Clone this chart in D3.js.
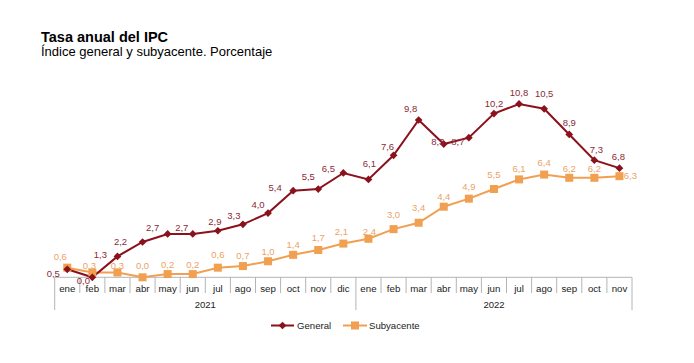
<!DOCTYPE html>
<html>
<head>
<meta charset="utf-8">
<script src="https://cdn.jsdelivr.net/npm/d3@7"></script>
<style>
  body { margin: 0; background: #fff; }
  svg { font-family: "Liberation Sans", Arial, sans-serif; }
</style>
</head>
<body>
<div id="canvas"></div>
<script>
// Datos de la grafica
const months = ["ene", "feb", "mar", "abr", "may", "jun", "jul", "ago", "sep", "oct", "nov", "dic",
                "ene", "feb", "mar", "abr", "may", "jun", "jul", "ago", "sep", "oct", "nov"];
const years = ["2021", "2022"];
const monthYear = [0,0,0,0,0,0,0,0,0,0,0,0, 1,1,1,1,1,1,1,1,1,1,1];
const general = [0.5, 0.0, 1.3, 2.2, 2.7, 2.7, 2.9, 3.3, 4.0, 5.4, 5.5, 6.5,
                 6.1, 7.6, 9.8, 8.3, 8.7, 10.2, 10.8, 10.5, 8.9, 7.3, 6.8];
const subyacente = [0.6, 0.3, 0.3, 0.0, 0.2, 0.2, 0.6, 0.7, 1.0, 1.4, 1.7, 2.1,
                    2.4, 3.0, 3.4, 4.4, 4.9, 5.5, 6.1, 6.4, 6.2, 6.2, 6.3];

// Caracteristicas del canvas
const width = 694;
const height = 363;
const red = "#8b111c";
const orange = "#f0a050";

// Desplazamientos de las etiquetas (como en el original)
const nudgeGeneral = [[-14,4],[-9,3],[-17,-2],[-22,0],[-15,-6],[-11,-6],[-3,-9],[-9,-9],[-10,-8],[-18,-3],[-10,-12],[-15,-4],
                      [1,-16],[-6,-9],[-8,-11],[-6,-2],[-11,4],[0,-10],[0,-11],[0,-15],[0,-12],[2,-10],[-1,-11]];
const nudgeSub = [[-7,-11],[-3,-7],[0,-7],[0,-12],[0,-9],[0,-9],[0,-13],[0,-10],[0,-10],[0,-10],[0,-12],[-2,-12],
                  [1,-7],[0,-14],[0,-15],[0,-10],[0,-12],[0,-14],[0,-11],[0,-12],[0,-9],[0,-9],[11,-1]];

const svg = d3.select("#canvas").append("svg")
    .attr("width", width)
    .attr("height", height);

// Titulos
svg.append("text")
    .attr("x", 41).attr("y", 42)
    .style("font-size", "14.5px").style("font-weight", "bold")
    .text("Tasa anual del IPC");
svg.append("text")
    .attr("x", 41).attr("y", 56)
    .style("font-size", "13px")
    .text("Índice general y subyacente. Porcentaje");

// Escalas
const x = d3.scaleBand()
    .domain(d3.range(months.length))
    .range([54.7, 632]);

const y = d3.scaleLinear()
    .domain([0, 12])
    .range([277.3, 277.3 - 12 * 16.05]);

const fmt = v => d3.format(".1f")(v).replace(".", ",");

// Eje x con meses y años
const axis = svg.append("g").attr("class", "x--axis");
const y0 = y(0);

axis.append("line")
    .attr("x1", x.range()[0]).attr("x2", x.range()[1])
    .attr("y1", y0).attr("y2", y0)
    .attr("stroke", "#b4b4b4");

// Separadores entre meses
d3.range(months.length + 1).forEach(i => {
    const xx = i < months.length ? x(i) : x.range()[1];
    const isYear = i === 0 || i === months.length || monthYear[i] !== monthYear[i - 1];
    axis.append("line")
        .attr("x1", xx).attr("x2", xx)
        .attr("y1", y0).attr("y2", isYear ? 310 : 293)
        .attr("stroke", "#b4b4b4");
});

axis.selectAll(".month").data(months).enter()
    .append("text")
    .attr("class", "month")
    .attr("x", (d, i) => x(i) + x.bandwidth() / 2)
    .attr("y", 291.5)
    .attr("text-anchor", "middle")
    .style("font-size", "9.7px")
    .attr("fill", "#222")
    .text(d => d);

years.forEach((yr, k) => {
    const idx = monthYear.map((m, i) => m === k ? i : -1).filter(i => i >= 0);
    const x1 = x(idx[0]);
    const x2 = x(idx[idx.length - 1]) + x.bandwidth();
    axis.append("text")
        .attr("x", (x1 + x2) / 2)
        .attr("y", 307.5)
        .attr("text-anchor", "middle")
        .style("font-size", "9.5px")
        .attr("fill", "#222")
        .text(yr);
});

// Lineas
const line = d3.line()
    .x((d, i) => x(i) + x.bandwidth() / 2)
    .y(d => y(d));

svg.append("path")
    .datum(subyacente)
    .attr("d", line)
    .attr("fill", "none")
    .attr("stroke", orange)
    .attr("stroke-width", 2);

svg.append("path")
    .datum(general)
    .attr("d", line)
    .attr("fill", "none")
    .attr("stroke", red)
    .attr("stroke-width", 2);

// Marcadores
svg.selectAll(".sq").data(subyacente).enter()
    .append("rect")
    .attr("class", "sq")
    .attr("x", (d, i) => x(i) + x.bandwidth() / 2 - 4)
    .attr("y", d => y(d) - 4)
    .attr("width", 8).attr("height", 8)
    .attr("fill", orange);

const diamond = d3.symbol().type(d3.symbolDiamond2).size(38);
svg.selectAll(".dm").data(general).enter()
    .append("path")
    .attr("class", "dm")
    .attr("d", diamond)
    .attr("transform", (d, i) => `translate(${x(i) + x.bandwidth() / 2}, ${y(d)})`)
    .attr("fill", red);

// Etiquetas de datos
svg.selectAll(".lblS").data(subyacente).enter()
    .append("text")
    .attr("class", "lblS")
    .attr("x", (d, i) => x(i) + x.bandwidth() / 2 + nudgeSub[i][0])
    .attr("y", (d, i) => y(d) + nudgeSub[i][1])
    .attr("dy", "0.35em")
    .attr("text-anchor", "middle")
    .style("font-size", "9.5px")
    .attr("fill", "#eca266")
    .text(d => fmt(d));

svg.selectAll(".lblG").data(general).enter()
    .append("text")
    .attr("class", "lblG")
    .attr("x", (d, i) => x(i) + x.bandwidth() / 2 + nudgeGeneral[i][0])
    .attr("y", (d, i) => y(d) + nudgeGeneral[i][1])
    .attr("dy", "0.35em")
    .attr("text-anchor", "middle")
    .style("font-size", "9.5px")
    .attr("fill", "#8a2a36")
    .text(d => fmt(d));

// Leyenda
const legend = svg.append("g");
legend.append("line")
    .attr("x1", 271).attr("x2", 294).attr("y1", 325.5).attr("y2", 325.5)
    .attr("stroke", red).attr("stroke-width", 2);
legend.append("path")
    .attr("d", diamond)
    .attr("transform", "translate(282.5, 325.5)")
    .attr("fill", red);
legend.append("text")
    .attr("x", 297).attr("y", 329)
    .style("font-size", "9.6px").attr("fill", "#222")
    .text("General");
legend.append("line")
    .attr("x1", 343).attr("x2", 367).attr("y1", 325.5).attr("y2", 325.5)
    .attr("stroke", orange).attr("stroke-width", 2);
legend.append("rect")
    .attr("x", 351).attr("y", 321.5).attr("width", 8).attr("height", 8)
    .attr("fill", orange);
legend.append("text")
    .attr("x", 369).attr("y", 329)
    .style("font-size", "9.6px").attr("fill", "#222")
    .text("Subyacente");
</script>
</body>
</html>
